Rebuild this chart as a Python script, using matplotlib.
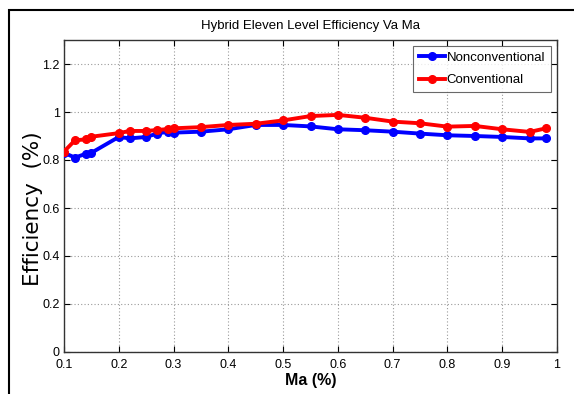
import matplotlib
matplotlib.use("Agg")
import matplotlib.pyplot as plt
from matplotlib.patches import Rectangle

# Modulation index samples
ma = [0.10, 0.12, 0.14, 0.15, 0.20, 0.22, 0.25, 0.27, 0.29, 0.30, 0.35, 0.40,
      0.45, 0.50, 0.55, 0.60, 0.65, 0.70, 0.75, 0.80, 0.85, 0.90, 0.95, 0.98]

# Efficiency per scheme
eff_nonconv = [0.830, 0.810, 0.826, 0.830, 0.896, 0.890, 0.896, 0.910, 0.918, 0.914,
               0.918, 0.928, 0.946, 0.946, 0.940, 0.928, 0.924, 0.918, 0.910, 0.903,
               0.900, 0.896, 0.890, 0.890]
eff_conv = [0.835, 0.882, 0.886, 0.897, 0.912, 0.921, 0.921, 0.925, 0.929, 0.932,
            0.937, 0.946, 0.951, 0.965, 0.983, 0.988, 0.976, 0.960, 0.953, 0.939,
            0.942, 0.928, 0.917, 0.932]

x_ticks = [0.1, 0.2, 0.3, 0.4, 0.5, 0.6, 0.7, 0.8, 0.9, 1.0]
x_ticklabels = ["0.1", "0.2", "0.3", "0.4", "0.5", "0.6", "0.7", "0.8", "0.9", "1"]
y_ticks = [0, 0.2, 0.4, 0.6, 0.8, 1.0, 1.2]
y_ticklabels = ["0", "0.2", "0.4", "0.6", "0.8", "1", "1.2"]

narrow = ["Liberation Sans Narrow", "Liberation Sans", "DejaVu Sans"]

W, H = 574, 394
fig = plt.figure(figsize=(W / 100, H / 100), dpi=100)
fig.patch.set_facecolor("white")

# outer frame around the figure (left and top edges show)
fig.patches.append(Rectangle((9 / W, -0.1), 1.2, (H - 10) / H + 0.1,
                             transform=fig.transFigure, fill=False,
                             edgecolor="black", linewidth=1.5))

ax = fig.add_axes([64 / W, 1 - 352 / H, (557 - 64) / W, (352 - 40) / H])

ax.plot(ma, eff_nonconv, color="#0000ff", linewidth=2.8, marker="o",
        markersize=5.5, label="Nonconventional", zorder=3)
ax.plot(ma, eff_conv, color="#ff0000", linewidth=2.8, marker="o",
        markersize=5.5, label="Conventional", zorder=3)

ax.set_xlim(0.1, 1.0)
ax.set_ylim(0, 1.3)
ax.set_xticks(x_ticks)
ax.set_xticklabels(x_ticklabels)
ax.set_yticks(y_ticks)
ax.set_yticklabels(y_ticklabels)
for lbl in ax.get_xticklabels() + ax.get_yticklabels():
    lbl.set_family(narrow)
    lbl.set_fontsize(9)

ax.tick_params(direction="in", length=4, width=0.8, top=True, right=True,
               colors="black")
ax.tick_params(axis="x", pad=5)
ax.tick_params(axis="y", pad=3)
ax.grid(True, color="#9a9a9a", linestyle=(0, (1, 2)), linewidth=0.8)
for s in ax.spines.values():
    s.set_linewidth(1.0)
    s.set_color("#333333")

ax.set_title("Hybrid Eleven Level Efficiency Va Ma", family=narrow,
             fontsize=9.5, pad=8)
ax.set_xlabel("Ma (%)", family=narrow, fontsize=11.5, fontweight="bold")
ax.xaxis.set_label_coords(0.5, -(373 - 352) / (352 - 40), transform=ax.transAxes)
ax.set_ylabel("Efficiency  (%)", family=["DejaVu Sans"], fontsize=15.5)
ax.yaxis.set_label_coords(-(64 - 43) / (557 - 64), (352 - 209) / (352 - 40),
                          transform=ax.transAxes)

leg = ax.legend(loc="upper right", prop={"family": narrow, "size": 9.5},
                frameon=True, fancybox=False, edgecolor="#444444",
                borderpad=0.45, handlelength=2.0, handletextpad=0.1,
                labelspacing=0.75, borderaxespad=0.45)
leg.get_frame().set_linewidth(0.8)

fig.savefig("out.png", dpi=100)
